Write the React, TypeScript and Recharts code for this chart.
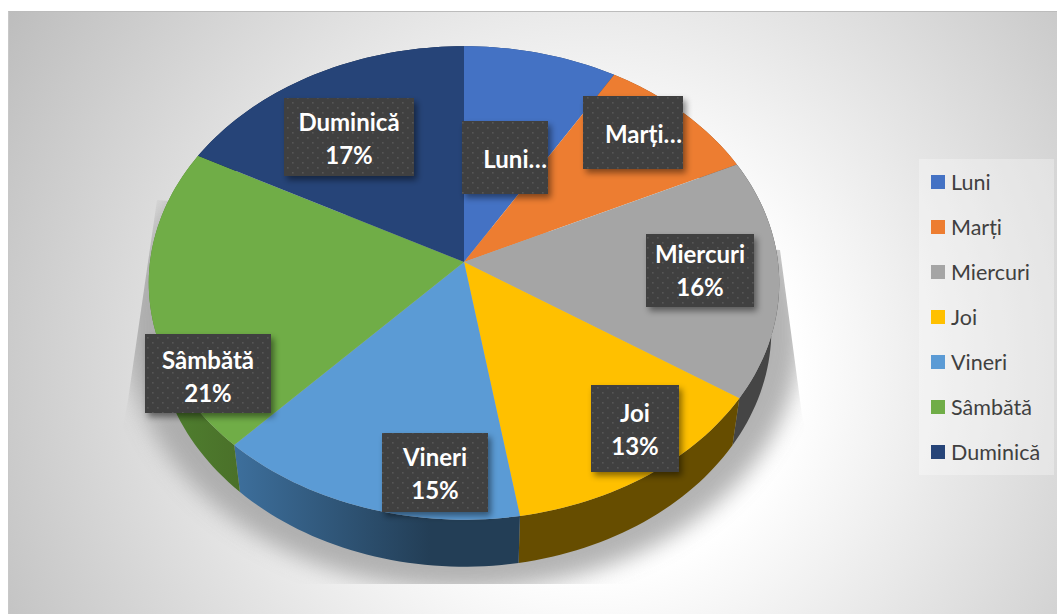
import React from 'react';
import { PieChart, Pie, Legend } from 'recharts';

const days = ['Luni', 'Marți', 'Miercuri', 'Joi', 'Vineri', 'Sâmbătă', 'Duminică'];
const shares = [8.6, 9.3, 16.4, 13.1, 14.6, 20.8, 17.2];
const colors = ['#4472c4', '#ed7d31', '#a5a5a5', '#ffc000', '#5b9bd5', '#70ad47', '#264478'];
const rimColors = ['#29446f', '#8e4b1d', '#454545', '#664d00', 'url(#rimVineri)', 'url(#rimSambata)', '#16294a'];
const clippedLabels = [true, true, false, false, false, false, false];

// label boxes as they sit in the picture: x, y, w, h, first text baseline
const labelBoxes = [
  [462, 121, 86, 73, 168],
  [583, 96, 100, 73, 143],
  [646, 234, 108, 73, 263],
  [591, 385, 88, 87, 422],
  [382, 433, 106, 79, 466],
  [145, 334, 126, 79, 369],
  [284, 98, 130, 78, 131],
];

const FONT = 'Lato, "Open Sans", sans-serif';
const TILT = 0.748; // vertical squash of the disc
const PERSPECTIVE = 0.0886; // front of the disc comes closer
const DEPTH = 47;
const RIM_SHRINK = 0.975;

const data = days.map((name, i) => ({ name, value: shares[i], fill: colors[i] }));
const rimData = days.map((name, i) => ({ name, value: shares[i], fill: rimColors[i] }));

// angle comes in recharts degrees (counter clockwise from 3 o'clock)
function project(r: number, angle: number) {
  const a = (angle * Math.PI) / 180;
  const u = Math.cos(a);
  const v = -Math.sin(a);
  const w = 1 - PERSPECTIVE * v;
  return { x: (r * u) / w, y: (r * TILT * v) / w };
}

function arcPoints(p: any) {
  const pts = [];
  const n = Math.max(2, Math.ceil(Math.abs(p.endAngle - p.startAngle) / 1.5));
  for (let i = 0; i <= n; i++) {
    pts.push(project(p.outerRadius, p.startAngle + ((p.endAngle - p.startAngle) * i) / n));
  }
  return pts;
}

const TopSlice = (p: any) => {
  const pts = arcPoints(p).map((q) => `${p.cx + q.x},${p.cy + q.y}`);
  return <path d={`M${p.cx},${p.cy}L${pts.join('L')}Z`} fill={p.fill} />;
};

const RimSlice = (p: any) => {
  const top = arcPoints(p).map((q) => `${p.cx + q.x},${p.cy + q.y}`);
  const bottom = arcPoints(p)
    .reverse()
    .map((q) => `${p.cx + q.x * RIM_SHRINK},${p.cy + q.y + DEPTH}`);
  return <path d={`M${top.join('L')}L${bottom.join('L')}Z`} fill={p.fill} />;
};

const SliceLabel = (p: any) => {
  const [x, y, w, h, base] = labelBoxes[p.index];
  const name = days[p.index];
  const cut = clippedLabels[p.index];
  const mid = x + w / 2;
  return (
    <g>
      <rect x={x} y={y} width={w} height={h} fill="url(#labelDots)" filter="url(#labelShadow)" />
      <text x={cut ? x + w - 1 : mid} y={base} textAnchor={cut ? 'end' : 'middle'} fill="#fff" fontFamily={FONT} fontWeight={700} fontSize={24}>
        {cut ? `${name}…` : name}
      </text>
      {!cut && (
        <text x={mid} y={base + 33} textAnchor="middle" fill="#fff" fontFamily={FONT} fontWeight={700} fontSize={24}>
          {`${Math.round(p.percent * 100)}%`}
        </text>
      )}
    </g>
  );
};

const LegendBox = ({ payload }: any) => (
  <div style={{ width: 135, height: 316, background: 'rgba(255,255,255,0.3)', position: 'relative', fontFamily: FONT, fontSize: 21.5, color: '#404040' }}>
    {(payload || [])
      .filter((item: any) => colors.includes(item.color))
      .map((item: any, i: number) => (
        <div key={item.value} style={{ position: 'absolute', left: 12, top: 9 + i * 45, height: 28, display: 'flex', alignItems: 'center', whiteSpace: 'nowrap' }}>
          <span style={{ width: 14, height: 14, background: item.color, marginRight: 6 }} />
          {item.value}
        </div>
      ))}
  </div>
);

export default function App() {
  return (
    <div style={{ position: 'absolute', left: 0, top: 0, width: 1057, height: 614, background: '#fff', overflow: 'hidden' }}>
      <div
        style={{
          position: 'absolute',
          left: 8,
          top: 11,
          width: 1049,
          height: 603,
          boxSizing: 'border-box',
          borderTop: '1px solid #bcbcbc',
          borderLeft: '1px solid #c8c8c8',
          background: 'radial-gradient(circle farthest-corner at 55.5% 59.5%, #ffffff 0%, #ffffff 30%, #bdbdbd 100%)',
        }}
      />
      <PieChart width={1057} height={614} margin={{ top: 0, right: 0, bottom: 0, left: 0 }} style={{ position: 'absolute', left: 0, top: 0 }}>
        <defs>
          <pattern id="labelDots" width="10" height="10" patternUnits="userSpaceOnUse">
            <rect width="10" height="10" fill="#404040" />
            <rect x="2" y="2" width="1.6" height="1.6" fill="#575757" />
            <rect x="7" y="7" width="1.6" height="1.6" fill="#575757" />
          </pattern>
          <filter id="labelShadow" x="-20%" y="-20%" width="150%" height="150%">
            <feDropShadow dx="3" dy="4" stdDeviation="3" floodColor="#000" floodOpacity="0.45" />
          </filter>
          <filter id="discShadow" x="-20%" y="-20%" width="140%" height="140%">
            <feGaussianBlur stdDeviation="11" />
          </filter>
          <clipPath id="shadowClip">
            <polygon points="157,200 128,400 92,584 836,584 802,415 780,250" />
          </clipPath>
          <linearGradient id="rimVineri" gradientUnits="userSpaceOnUse" x1="235" y1="0" x2="430" y2="0">
            <stop offset="0" stopColor="#3d6f9c" />
            <stop offset="1" stopColor="#233e56" />
          </linearGradient>
          <linearGradient id="rimSambata" gradientUnits="userSpaceOnUse" x1="170" y1="0" x2="240" y2="0">
            <stop offset="0" stopColor="#4f7f2f" />
            <stop offset="1" stopColor="#4a7029" />
          </linearGradient>
        </defs>
        <g clipPath="url(#shadowClip)">
          <ellipse cx={464} cy={330} rx={338} ry={260} fill="#a0a0a0" opacity={0.8} filter="url(#discShadow)" />
        </g>
        <Pie
          data={rimData}
          dataKey="value"
          nameKey="name"
          cx={464}
          cy={262}
          outerRadius={314}
          startAngle={90}
          endAngle={-270}
          stroke="none"
          legendType="none"
          isAnimationActive={false}
          shape={RimSlice}
        />
        <Pie
          data={data}
          dataKey="value"
          nameKey="name"
          cx={464}
          cy={262}
          outerRadius={314}
          startAngle={90}
          endAngle={-270}
          stroke="none"
          isAnimationActive={false}
          shape={TopSlice}
          label={SliceLabel}
          labelLine={false}
        />
        <Legend content={LegendBox} itemSorter={null} wrapperStyle={{ position: 'absolute', left: 919, top: 159, width: 135 }} />
      </PieChart>
    </div>
  );
}
